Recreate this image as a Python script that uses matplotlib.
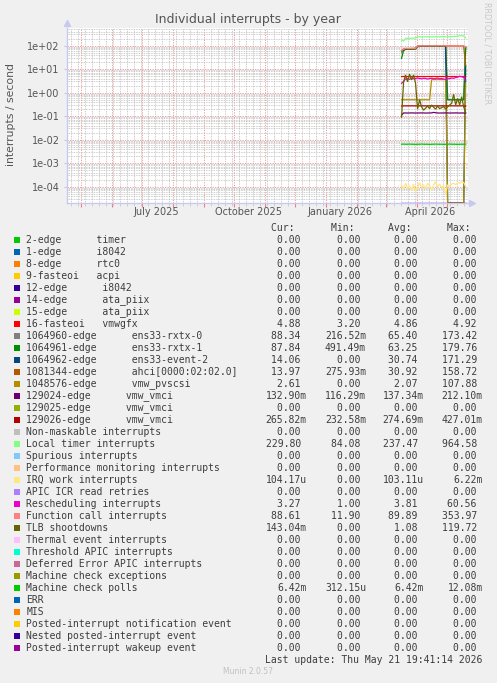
import numpy as np
import pandas as pd
import matplotlib
matplotlib.use("Agg")
import matplotlib.pyplot as plt
import matplotlib.dates as mdates
import matplotlib.transforms as mtrans
from matplotlib.ticker import LogLocator, NullFormatter
from matplotlib.patches import Rectangle
from datetime import datetime, timedelta

# ---------------- data ----------------
dates = pd.date_range("2026-03-17", "2026-05-20", freq="2D")  # 33 samples

local_timer = [175, 158, 206, 205, 207, 208, 210, 212, 240, 238, 236, 238, 240, 238, 236, 237,
               238, 240, 239, 238, 240, 242, 240, 238, 240, 242, 245, 250, 255, 262, 265, 258, 215]
function_call = [62, 72, 77, 76, 76, 77, 76, 78, 98, 99, 100, 99, 100, 100, 99, 100,
                 100, 99, 100, 100, 100, 99, 100, 100, 99, 100, 100, 100, 99, 100, 100, 99, 88.61]
rxtx_0 = [50, 64, 70, 70, 71, 71, 72, 72, 92, 93, 94, 94, 95, 94, 95, 95,
          94, 95, 95, 94, 95, 95, 94, 0.5, 0.5, 0.5, 0.5, 0.5, 0.5, 0.5, 0.5, 0.5, 88.34]
rxtx_1 = [29, 62, 70, 70, 71, 71, 72, 72, 92, 93, 94, 94, 95, 94, 95, 95,
          94, 95, 95, 94, 95, 95, 94, 0.5, 0.5, 0.5, 0.5, 0.5, 0.5, 0.5, 0.5, 0.5, 87.84]
event_2 = [60, 70, 74, 74, 75, 75, 76, 76, 95, 96, 97, 97, 98, 97, 98, 98,
           97, 98, 98, 97, 98, 98, 97, 0, 0, 0, 0, 0, 0, 0, 0, 0, 14.06]
ahci = [60, 70, 75, 74, 74, 75, 74, 76, 96, 97, 98, 97, 98, 98, 97, 98,
        98, 97, 98, 98, 98, 97, 98, 98, 97, 98, 98, 98, 97, 98, 98, 97, 13.97]
pvscsi = [0.5, 0.5, 0.5, 0.5, 0.5, 0.5, 0.5, 0.5, 0.5, 0.5, 0.5, 0.5, 0.5, 0.5, 0.5, 3.6,
          3.6, 3.6, 3.6, 3.6, 3.6, 3.6, 3.6, 0, 0, 0, 0, 0, 0, 0, 0, 0, 2.61]
vmwgfx = [4.86, 4.88, 4.88, 4.87, 4.88, 4.88, 4.86, 4.88, 4.88, 4.87, 4.88, 4.88, 4.86, 4.88, 4.88, 4.87,
          4.88, 4.88, 4.86, 4.88, 4.88, 4.87, 4.88, 4.88, 4.86, 4.88, 4.88, 4.87, 4.88, 4.88, 4.86, 4.88, 4.88]
vmci_024 = [0.11, 0.137, 0.137, 0.136, 0.137, 0.138, 0.137, 0.136, 0.137, 0.137, 0.138, 0.137, 0.136, 0.137, 0.137, 0.138,
            0.145, 0.14, 0.137, 0.136, 0.137, 0.137, 0.138, 0.137, 0.136, 0.137, 0.137, 0.138, 0.137, 0.136, 0.137, 0.137, 0.133]
vmci_026 = [0.27, 0.275, 0.275, 0.274, 0.275, 0.276, 0.275, 0.274, 0.275, 0.275, 0.276, 0.275, 0.274, 0.275, 0.275, 0.276,
            0.275, 0.274, 0.275, 0.275, 0.276, 0.275, 0.274, 0.275, 0.275, 0.276, 0.275, 0.274, 0.275, 0.275, 0.276, 0.275, 0.266]
irq_work = [1.2e-4, 8e-5, 1.4e-4, 9e-5, 1.1e-4, 7e-5, 1.3e-4, 6e-5, 1.0e-4, 1.5e-4, 9e-5, 1.2e-4, 8e-5, 1.4e-4, 1.1e-4, 7e-5,
            1.2e-4, 1.6e-4, 1.0e-4, 1.3e-4, 9e-5, 1.1e-4, 5e-5, 1.2e-4, 1.0e-4, 1.3e-4, 1.4e-4, 1.2e-4, 1.5e-4, 1.4e-4, 1.6e-4, 1.5e-4, 1.04e-4]
rescheduling = [2.5, 3.0, 3.8, 4.0, 3.7, 4.1, 3.9, 4.0, 4.2, 4.0, 3.9, 4.1, 4.0, 3.8, 4.0, 4.1,
                3.9, 4.0, 4.2, 3.9, 4.0, 3.8, 3.7, 3.9, 4.0, 4.2, 4.1, 4.4, 4.6, 5.0, 4.8, 4.5, 3.27]
tlb = [0.09, 2.8, 5.7, 2.9, 6.2, 3.5, 5.7, 2.5, 0.2, 0.5, 0.25, 0.18, 0.22, 0.27, 0.21, 0.3,
       0.24, 0.2, 0.27, 0.21, 0.23, 0.26, 0.2, 0.25, 0.3, 0.35, 0.85, 0.3, 0.57, 0.3, 0.67, 0.25, 0.143]
mce_polls = [0.0064, 0.0065, 0.0064, 0.0064, 0.0065, 0.0064, 0.0064, 0.0063, 0.0064, 0.0064, 0.0065, 0.0064, 0.0064, 0.0064, 0.0063, 0.0064,
             0.0064, 0.0065, 0.0064, 0.0064, 0.0064, 0.0063, 0.0064, 0.0064, 0.0065, 0.0064, 0.0064, 0.0064, 0.0063, 0.0064, 0.0064, 0.0064, 0.00642]
zero_values = np.zeros(len(dates))

labels = [
    "2-edge      timer", "1-edge      i8042", "8-edge      rtc0", "9-fasteoi   acpi",
    "12-edge      i8042", "14-edge      ata_piix", "15-edge      ata_piix", "16-fasteoi   vmwgfx",
    "1064960-edge      ens33-rxtx-0", "1064961-edge      ens33-rxtx-1",
    "1064962-edge      ens33-event-2", "1081344-edge      ahci[0000:02:02.0]",
    "1048576-edge      vmw_pvscsi", "129024-edge      vmw_vmci", "129025-edge      vmw_vmci",
    "129026-edge      vmw_vmci", "Non-maskable interrupts", "Local timer interrupts",
    "Spurious interrupts", "Performance monitoring interrupts", "IRQ work interrupts",
    "APIC ICR read retries", "Rescheduling interrupts", "Function call interrupts",
    "TLB shootdowns", "Thermal event interrupts", "Threshold APIC interrupts",
    "Deferred Error APIC interrupts", "Machine check exceptions", "Machine check polls",
    "ERR", "MIS", "Posted-interrupt notification event", "Nested posted-interrupt event",
    "Posted-interrupt wakeup event",
]
colors = [
    "#00CC00", "#0066B3", "#FF8000", "#FFCC00", "#330099", "#990099", "#CCFF00", "#FF0000",
    "#808080", "#008F00", "#00487D", "#B35A00", "#B38F00", "#6B006B", "#8FB300", "#B30000",
    "#BEBEBE", "#80FF80", "#80C9FF", "#FFC080", "#FFE680", "#AA80FF", "#EE00CC", "#FF8080",
    "#666600", "#FFBFFF", "#00FFCC", "#CC6699", "#999900", "#00CC00", "#0066B3", "#FF8000",
    "#FFCC00", "#330099", "#990099",
]
cur_vals = ["0.00", "0.00", "0.00", "0.00", "0.00", "0.00", "0.00", "4.88", "88.34", "87.84",
            "14.06", "13.97", "2.61", "132.90m", "0.00", "265.82m", "0.00", "229.80", "0.00", "0.00",
            "104.17u", "0.00", "3.27", "88.61", "143.04m", "0.00", "0.00", "0.00", "0.00", "6.42m",
            "0.00", "0.00", "0.00", "0.00", "0.00"]
min_vals = ["0.00", "0.00", "0.00", "0.00", "0.00", "0.00", "0.00", "3.20", "216.52m", "491.49m",
            "0.00", "275.93m", "0.00", "116.29m", "0.00", "232.58m", "0.00", "84.08", "0.00", "0.00",
            "0.00", "0.00", "1.00", "11.90", "0.00", "0.00", "0.00", "0.00", "0.00", "312.15u",
            "0.00", "0.00", "0.00", "0.00", "0.00"]
avg_vals = ["0.00", "0.00", "0.00", "0.00", "0.00", "0.00", "0.00", "4.86", "65.40", "63.25",
            "30.74", "30.92", "2.07", "137.34m", "0.00", "274.69m", "0.00", "237.47", "0.00", "0.00",
            "103.11u", "0.00", "3.81", "89.89", "1.08", "0.00", "0.00", "0.00", "0.00", "6.42m",
            "0.00", "0.00", "0.00", "0.00", "0.00"]
max_vals = ["0.00", "0.00", "0.00", "0.00", "0.00", "0.00", "0.00", "4.92", "173.42", "179.76",
            "171.29", "158.72", "107.88", "212.10m", "0.00", "427.01m", "0.00", "964.58", "0.00", "0.00",
            "6.22m", "0.00", "60.56", "353.97", "119.72", "0.00", "0.00", "0.00", "0.00", "12.08m",
            "0.00", "0.00", "0.00", "0.00", "0.00"]

# series drawn in munin order (index into labels/colors)
series = [
    (8, rxtx_0), (9, rxtx_1), (10, event_2), (11, ahci), (12, pvscsi), (7, vmwgfx),
    (13, vmci_024), (15, vmci_026), (17, local_timer), (20, irq_work), (21, zero_values),
    (22, rescheduling), (23, function_call), (24, tlb), (29, mce_polls), (34, zero_values),
]

end_time = datetime(2026, 5, 21, 19, 41, 14)
start_time = end_time - timedelta(days=400)
y_lo, y_hi = 2.02e-5, 5.66e2

# ---------------- figure ----------------
W, H = 497, 683
fig = plt.figure(figsize=(W / 100, H / 100), dpi=100, facecolor="#F0F0F0")
ax_l, ax_r, ax_t, ax_b = 66.7, 467.5, 28.0, 203.0
ax = fig.add_axes([ax_l / W, 1 - ax_b / H, (ax_r - ax_l) / W, (ax_b - ax_t) / H])
ax.set_facecolor("white")
ax.set_yscale("log")
ax.set_xlim(mdates.date2num(start_time), mdates.date2num(end_time))
ax.set_ylim(y_lo, y_hi)

for idx, vals in series:
    v = np.clip(np.asarray(vals, dtype=float), y_lo * 1.02, None)
    ax.plot(dates, v, color=colors[idx], lw=0.9, solid_joinstyle="miter", zorder=3)

# grid
ax.xaxis.set_major_locator(mdates.MonthLocator(bymonthday=1))
ax.xaxis.set_minor_locator(mdates.WeekdayLocator(byweekday=mdates.MO))
ax.yaxis.set_major_locator(LogLocator(base=10, numticks=20))
ax.yaxis.set_minor_locator(LogLocator(base=10, subs=np.arange(2, 10), numticks=100))
ax.yaxis.set_minor_formatter(NullFormatter())
ax.yaxis.set_major_formatter(matplotlib.ticker.FuncFormatter(lambda v, p: "%.0e" % v))
ax.grid(which="minor", color="#BDBDBD", lw=0.6, ls=(0, (1, 1)), zorder=1)
ax.grid(which="major", color="#F09090", lw=0.6, ls=(0, (1.5, 1.5)), zorder=2)
ax.tick_params(axis="x", which="major", length=3, color="#F08080", labelbottom=False)
ax.tick_params(axis="x", which="minor", length=2, color="#C8C8C8", labelbottom=False)
ax.tick_params(axis="y", which="major", length=2, color="#C8C8F0", labelsize=7,
               labelcolor="#555555", pad=3)
ax.tick_params(axis="y", which="minor", length=0)

for s in ("top", "right"):
    ax.spines[s].set_visible(False)
for s in ("left", "bottom"):
    ax.spines[s].set_color("#C8C8F0")
    ax.spines[s].set_linewidth(1.0)
ax.plot([1.012], [0.0], marker=">", ms=5, color="#C8C8F0", transform=ax.transAxes, clip_on=False)
ax.plot([0.0], [1.03], marker="^", ms=5, color="#C8C8F0", transform=ax.transAxes, clip_on=False)

# x labels centered mid-month
trans = mtrans.blended_transform_factory(ax.transData, ax.transAxes)
for d, lab in [(datetime(2025, 7, 15), "July 2025"), (datetime(2025, 10, 15), "October 2025"),
               (datetime(2026, 1, 15), "January 2026"), (datetime(2026, 4, 15), "April 2026")]:
    ax.text(mdates.date2num(d), -9.3 / (ax_b - ax_t), lab, transform=trans, ha="center",
            va="center", fontsize=7, color="#555555")

fig.text(248 / W, 1 - 19 / H, "Individual interrupts - by year", ha="center", va="center",
         fontsize=9, color="#555555")
fig.text(11 / W, 1 - 114 / H, "interrupts / second", rotation=90, ha="center", va="center",
         fontsize=7.8, color="#555555")
fig.text(487 / W, 1 - 53 / H, "RRDTOOL / TOBI OETIKER", rotation=270, ha="center", va="center",
         fontsize=5.8, color="#C8C8C8")

# ---------------- legend table ----------------
mono = "DejaVu Sans Mono"
fs = 7.05
txt_col = "#3C3C3C"
col_right = [306.7, 366.0, 423.7, 482.7]
for hdr, xr in zip(["Cur:", "Min:", "Avg:", "Max:"], col_right):
    fig.text(xr / W, 1 - 228 / H, hdr + "  ", ha="right", va="center", family=mono,
             fontsize=fs, color=txt_col)


def fmt(s):
    return s if s[-1].isalpha() else s + " "


for k, lab in enumerate(labels):
    y = 240 + 12 * k
    fig.patches.append(Rectangle((14 / W, 1 - (y + 3) / H), 6 / W, 6 / H, transform=fig.transFigure,
                                 facecolor=colors[k], edgecolor="none"))
    fig.text(26.5 / W, 1 - y / H, lab, ha="left", va="center", family=mono, fontsize=fs, color=txt_col)
    for vals, xr in zip([cur_vals, min_vals, avg_vals, max_vals], col_right):
        fig.text(xr / W, 1 - y / H, fmt(vals[k]), ha="right", va="center", family=mono,
                 fontsize=fs, color=txt_col)

fig.text(482.7 / W, 1 - 660 / H, "Last update: Thu May 21 19:41:14 2026", ha="right", va="center",
         family=mono, fontsize=fs, color=txt_col)
fig.text(247.7 / W, 1 - 672 / H, "Munin 2.0.57", ha="center", va="center", fontsize=5.5,
         color="#C0C0C0")

fig.savefig("out.png", dpi=100, facecolor=fig.get_facecolor())
